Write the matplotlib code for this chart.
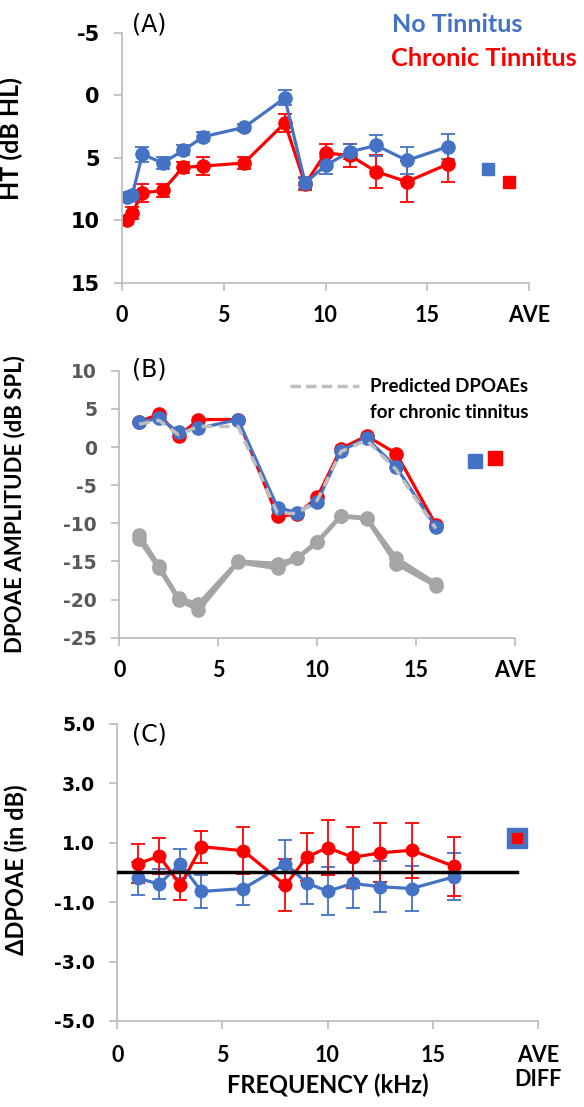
import numpy as np
import matplotlib.pyplot as plt
from matplotlib.lines import Line2D

plt.rcParams['axes.unicode_minus'] = False

# colours
BLUE = '#4472C4'
RED = '#FF0000'
GRAY = '#A5A5A5'
DASH = '#BFBFBF'
SPINE = '#BFBFBF'

LABEL_FONT = 'Lato'
TICK_FONT = 'DejaVu Sans'

# ---------------- data ----------------
# (A) hearing thresholds
freq_ht = [0.25, 0.5, 1, 2, 3, 4, 6, 8, 9, 10, 11.2, 12.5, 14, 16]
ht_no = [8.1, 8.0, 4.7, 5.4, 4.4, 3.3, 2.55, 0.2, 7.0, 5.6, 4.5, 4.0, 5.2, 4.1]
ht_no_err = [0.3, 0.3, 0.6, 0.5, 0.4, 0.35, 0.3, 0.6, 0.5, 0.65, 0.6, 0.85, 1.05, 1.0]
ht_ct = [10.0, 9.4, 7.8, 7.6, 5.75, 5.65, 5.4, 2.2, 7.1, 4.6, 4.8, 6.1, 6.9, 5.5]
ht_ct_err = [0.3, 0.5, 0.7, 0.5, 0.45, 0.75, 0.5, 0.7, 0.5, 0.7, 0.95, 1.3, 1.65, 1.4]
ht_ave_no = 5.9
ht_ave_ct = 6.9

# (B) DPOAE amplitudes
freq_dp = [1, 2, 3, 4, 6, 8, 9, 10, 11.2, 12.5, 14, 16]
dp_no = [3.25, 3.75, 2.0, 2.45, 3.6, -7.95, -8.6, -7.2, -0.5, 1.15, -2.65, -10.5]
dp_ct = [3.3, 4.3, 1.45, 3.6, 3.6, -9.1, -8.8, -6.6, -0.2, 1.45, -0.85, -10.2]
dp_pred = [3.0, 3.5, 1.6, 2.7, 2.7, -8.7, -8.7, -7.0, -0.6, 0.9, -3.0, -10.7]
nf_no = [-11.5, -15.6, -19.8, -20.6, -15.0, -15.3, -14.5, -12.4, -9.0, -9.3, -14.6, -17.9]
nf_ct = [-12.1, -15.9, -20.0, -21.4, -15.1, -15.9, -14.6, -12.5, -9.1, -9.4, -15.3, -18.2]
dp_ave_no = -1.8
dp_ave_ct = -1.5

# (C) DPOAE differences
d_ct = [0.30, 0.55, -0.43, 0.87, 0.73, -0.43, 0.51, 0.84, 0.51, 0.66, 0.75, 0.21]
d_ct_err = [0.65, 0.6, 0.5, 0.54, 0.79, 0.88, 0.81, 0.92, 1.03, 0.99, 0.92, 0.99]
d_no = [-0.20, -0.39, 0.30, -0.64, -0.54, 0.30, -0.35, -0.63, -0.37, -0.48, -0.54, -0.15]
d_no_err = [0.56, 0.5, 0.5, 0.57, 0.56, 0.79, 0.7, 0.81, 0.84, 0.85, 0.76, 0.79]
d_ave_diff = 1.15

xticks = [0, 5, 10, 15, 20]
xlabels_ab = ['0', '5', '10', '15', 'AVE']
xlabels_c = ['0', '5', '10', '15', 'AVE\nDIFF']


def style_axes(ax, xlabels, tick_color, tick_size, pad):
    for s in ['top', 'right']:
        ax.spines[s].set_visible(False)
    for s in ['left', 'bottom']:
        ax.spines[s].set_color(SPINE)
        ax.spines[s].set_linewidth(1.3)
    ax.set_xlim(0, 20)
    ax.set_xticks(xticks)
    ax.set_xticklabels(xlabels, fontfamily=LABEL_FONT, fontweight='bold',
                       fontsize=15.5, color='black', linespacing=1.2)
    ax.tick_params(axis='both', direction='out', length=6, width=1.3, color=SPINE)
    ax.tick_params(axis='x', pad=pad)
    ax.tick_params(axis='y', pad=10)
    for t in ax.get_yticklabels():
        t.set_fontfamily(TICK_FONT)
        t.set_fontweight('bold')
        t.set_fontsize(tick_size)
        t.set_color(tick_color)


fig = plt.figure(figsize=(5.84, 11.07), dpi=100)
axA = fig.add_axes([0.2089, 0.7444, 0.697, 0.2258])
axB = fig.add_axes([0.2043, 0.4239, 0.6776, 0.2412])
axC = fig.add_axes([0.2009, 0.0777, 0.7199, 0.2683])

# ---------------- (A) ----------------
axA.errorbar(freq_ht, ht_ct, yerr=ht_ct_err, color=RED, lw=2.3, marker='o', ms=9.5,
             elinewidth=1.3, capsize=5, capthick=1.3)
axA.errorbar(freq_ht, ht_no, yerr=ht_no_err, color=BLUE, lw=2.3, marker='o', ms=9.5,
             elinewidth=1.3, capsize=5, capthick=1.3)
axA.plot([18], [ht_ave_no], 's', color=BLUE, ms=9)
axA.plot([19], [ht_ave_ct], 's', color=RED, ms=9)
axA.set_ylim(15, -5)
axA.set_yticks([-5, 0, 5, 10, 15])
style_axes(axA, xlabels_ab, 'black', 15, 10)
axA.set_ylabel('HT (dB HL)', fontfamily=LABEL_FONT, fontweight='bold', fontsize=18)
axA.yaxis.set_label_coords(-0.243, 0.576)
axA.text(0.025, 1.032, '(A)', transform=axA.transAxes, fontsize=17, va='center', ha='left')
fig.text(392 / 584, 1 - 25 / 1107, 'No Tinnitus', color=BLUE, fontfamily=LABEL_FONT,
         fontweight='bold', fontsize=18, va='center', ha='left')
fig.text(391 / 584, 1 - 58 / 1107, 'Chronic Tinnitus', color=RED, fontfamily=LABEL_FONT,
         fontweight='bold', fontsize=18.3, va='center', ha='left')

# ---------------- (B) ----------------
axB.plot(freq_dp, nf_no, color=GRAY, lw=3, marker='o', ms=9.5)
axB.plot(freq_dp, nf_ct, color=GRAY, lw=3, marker='o', ms=9.5)
axB.plot(freq_dp, dp_ct, color=RED, lw=2.3, marker='o', ms=9.5)
axB.plot(freq_dp, dp_no, color=BLUE, lw=2.3, marker='o', ms=9.5)
axB.plot(freq_dp, dp_pred, color=DASH, lw=2.5, ls=(0, (3, 2)))
axB.plot([18], [dp_ave_no], 's', color=BLUE, ms=9.5)
axB.plot([19], [dp_ave_ct], 's', color=RED, ms=9.5)
axB.set_ylim(-25, 10)
axB.set_yticks(np.arange(-25, 11, 5))
style_axes(axB, xlabels_ab, '#595959', 13.5, 10)
axB.set_ylabel('DPOAE AMPLITUDE (dB SPL)', fontfamily=LABEL_FONT, fontweight='bold', fontsize=16)
axB.yaxis.set_label_coords(-0.238, 0.5)
axB.text(0.032, 1.003, '(B)', transform=axB.transAxes, fontsize=17, va='center', ha='left')
axB.add_line(Line2D([0.431, 0.606], [0.943, 0.943], transform=axB.transAxes, color=DASH,
                    lw=2.5, ls=(0, (3, 1.5)), clip_on=False))
axB.text(0.634, 0.940, 'Predicted DPOAEs', transform=axB.transAxes, fontfamily=LABEL_FONT,
         fontweight='bold', fontsize=13.5, va='center', ha='left')
axB.text(0.634, 0.843, 'for chronic tinnitus', transform=axB.transAxes, fontfamily=LABEL_FONT,
         fontweight='bold', fontsize=13.5, va='center', ha='left')

# ---------------- (C) ----------------
axC.errorbar(freq_dp, d_no, yerr=d_no_err, color=BLUE, lw=2.3, marker='o', ms=9,
             elinewidth=1.3, capsize=5, capthick=1.3)
axC.errorbar(freq_dp, d_ct, yerr=d_ct_err, color=RED, lw=2.3, marker='o', ms=9,
             elinewidth=1.3, capsize=5, capthick=1.3)
axC.axhline(0, xmin=0, xmax=0.95, color='black', lw=2.5, zorder=5)
axC.plot([19], [d_ave_diff], 's', color=BLUE, ms=15)
axC.plot([19], [d_ave_diff], 's', color=RED, ms=7)
axC.set_ylim(-5, 5)
axC.set_yticks([-5, -3, -1, 1, 3, 5])
axC.set_yticklabels(['%.1f' % v for v in [-5, -3, -1, 1, 3, 5]])
style_axes(axC, xlabels_c, 'black', 13.5, 11)
for t in axC.get_xticklabels():
    t.set_verticalalignment('top')
axC.set_ylabel('\u0394DPOAE (in dB)', fontfamily=LABEL_FONT, fontweight='bold', fontsize=17)
axC.yaxis.set_label_coords(-0.212, 0.51)
axC.set_xlabel('FREQUENCY (kHz)', fontfamily=LABEL_FONT, fontweight='bold', fontsize=17, labelpad=-12)
axC.text(0.035, 0.963, '(C)', transform=axC.transAxes, fontsize=17, va='center', ha='left')

fig.savefig('out.png', dpi=100)
